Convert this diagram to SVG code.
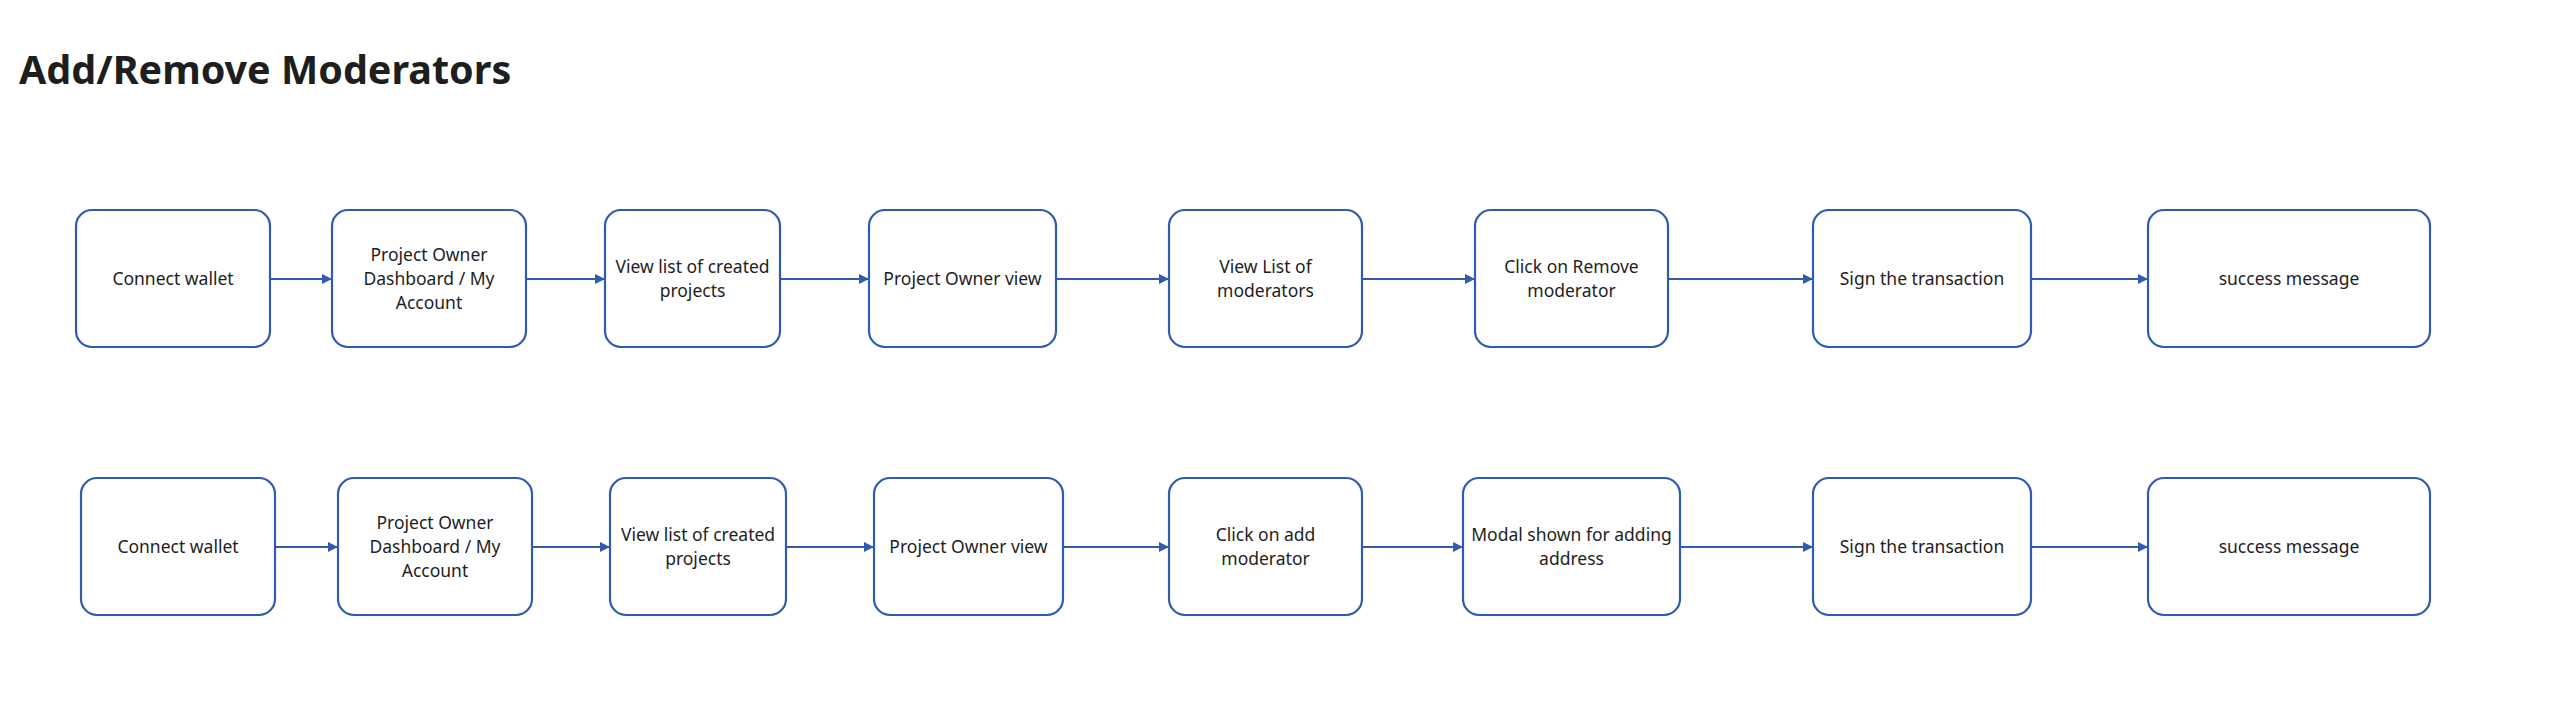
<svg xmlns="http://www.w3.org/2000/svg" width="2552" height="724" viewBox="0 0 2552 724">
<style>
.bg{fill:#ffffff}
.title{font-family:"Noto Sans","Open Sans",sans-serif;font-weight:700;font-size:39.5px;fill:#1e1e1e}
.box{fill:#ffffff;stroke:#2f5bb1;stroke-width:2.2}
.lbl{font-family:"Noto Sans","Open Sans",sans-serif;font-size:17.5px;fill:#1e1e1e;text-anchor:middle}
.edge{stroke:#2f5bb1;stroke-width:2.2;fill:none;marker-end:url(#arr)}
</style>
<defs>
<marker id="arr" viewBox="0 0 10 10" refX="10" refY="5" markerWidth="10" markerHeight="10" markerUnits="userSpaceOnUse" orient="auto">
<path d="M0,0 L10,5 L0,10 z" fill="#2f5bb1"/>
</marker>
</defs>
<rect class="bg" x="0" y="0" width="2552" height="724"/>
<text class="title" x="19" y="84">Add/Remove Moderators</text>

<g id="connectors">
<line class="edge" x1="270" y1="279" x2="332" y2="279"/>
<line class="edge" x1="526" y1="279" x2="605" y2="279"/>
<line class="edge" x1="780" y1="279" x2="869" y2="279"/>
<line class="edge" x1="1056" y1="279" x2="1169" y2="279"/>
<line class="edge" x1="1362" y1="279" x2="1475" y2="279"/>
<line class="edge" x1="1668" y1="279" x2="1813" y2="279"/>
<line class="edge" x1="2031" y1="279" x2="2148" y2="279"/>
<line class="edge" x1="275" y1="547" x2="338" y2="547"/>
<line class="edge" x1="532" y1="547" x2="610" y2="547"/>
<line class="edge" x1="786" y1="547" x2="874" y2="547"/>
<line class="edge" x1="1063" y1="547" x2="1169" y2="547"/>
<line class="edge" x1="1362" y1="547" x2="1463" y2="547"/>
<line class="edge" x1="1680" y1="547" x2="1813" y2="547"/>
<line class="edge" x1="2031" y1="547" x2="2148" y2="547"/>
</g>

<g id="r1n1"><rect class="box" x="76" y="210" width="194" height="137" rx="16"/><text class="lbl" x="173" y="285">Connect wallet</text></g>
<g id="r1n2"><rect class="box" x="332" y="210" width="194" height="137" rx="16"/><text class="lbl" x="429" y="261">Project Owner</text><text class="lbl" x="429" y="285">Dashboard / My</text><text class="lbl" x="429" y="309">Account</text></g>
<g id="r1n3"><rect class="box" x="605" y="210" width="175" height="137" rx="16"/><text class="lbl" x="692.5" y="273">View list of created</text><text class="lbl" x="692.5" y="297">projects</text></g>
<g id="r1n4"><rect class="box" x="869" y="210" width="187" height="137" rx="16"/><text class="lbl" x="962.5" y="285">Project Owner view</text></g>
<g id="r1n5"><rect class="box" x="1169" y="210" width="193" height="137" rx="16"/><text class="lbl" x="1265.5" y="273">View List of</text><text class="lbl" x="1265.5" y="297">moderators</text></g>
<g id="r1n6"><rect class="box" x="1475" y="210" width="193" height="137" rx="16"/><text class="lbl" x="1571.5" y="273">Click on Remove</text><text class="lbl" x="1571.5" y="297">moderator</text></g>
<g id="r1n7"><rect class="box" x="1813" y="210" width="218" height="137" rx="16"/><text class="lbl" x="1922" y="285">Sign the transaction</text></g>
<g id="r1n8"><rect class="box" x="2148" y="210" width="282" height="137" rx="16"/><text class="lbl" x="2289" y="285">success message</text></g>

<g id="r2n1"><rect class="box" x="81" y="478" width="194" height="137" rx="16"/><text class="lbl" x="178" y="553">Connect wallet</text></g>
<g id="r2n2"><rect class="box" x="338" y="478" width="194" height="137" rx="16"/><text class="lbl" x="435" y="529">Project Owner</text><text class="lbl" x="435" y="553">Dashboard / My</text><text class="lbl" x="435" y="577">Account</text></g>
<g id="r2n3"><rect class="box" x="610" y="478" width="176" height="137" rx="16"/><text class="lbl" x="698" y="541">View list of created</text><text class="lbl" x="698" y="565">projects</text></g>
<g id="r2n4"><rect class="box" x="874" y="478" width="189" height="137" rx="16"/><text class="lbl" x="968.5" y="553">Project Owner view</text></g>
<g id="r2n5"><rect class="box" x="1169" y="478" width="193" height="137" rx="16"/><text class="lbl" x="1265.5" y="541">Click on add</text><text class="lbl" x="1265.5" y="565">moderator</text></g>
<g id="r2n6"><rect class="box" x="1463" y="478" width="217" height="137" rx="16"/><text class="lbl" x="1571.5" y="541">Modal shown for adding</text><text class="lbl" x="1571.5" y="565">address</text></g>
<g id="r2n7"><rect class="box" x="1813" y="478" width="218" height="137" rx="16"/><text class="lbl" x="1922" y="553">Sign the transaction</text></g>
<g id="r2n8"><rect class="box" x="2148" y="478" width="282" height="137" rx="16"/><text class="lbl" x="2289" y="553">success message</text></g>
</svg>
